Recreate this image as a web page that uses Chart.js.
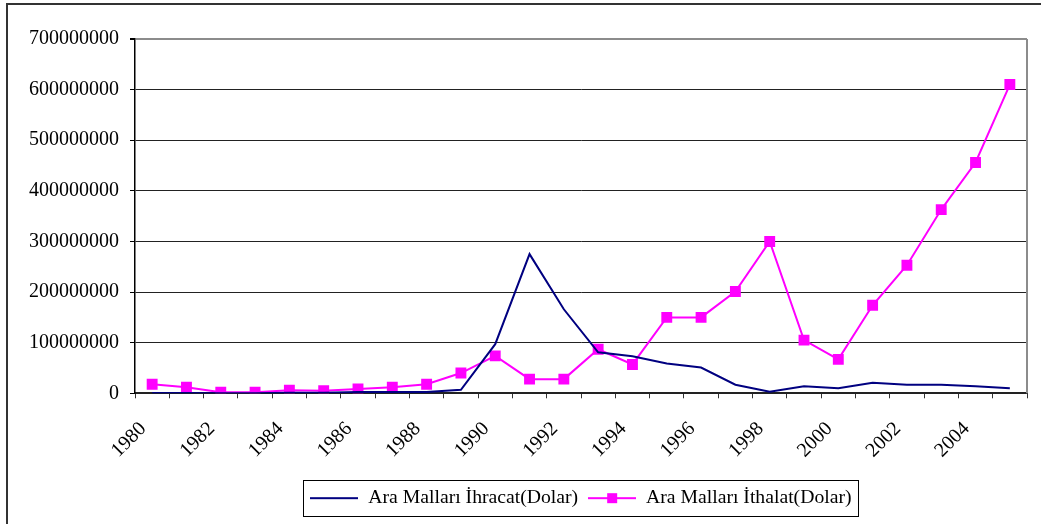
<!DOCTYPE html>
<html>
<head>
<meta charset="utf-8">
<script src="https://cdn.jsdelivr.net/npm/chart.js@4/dist/chart.umd.min.js"></script>
<style>
html, body { margin: 0; padding: 0; background: #fff; overflow: hidden; }
#wrap { position: relative; width: 1041px; height: 524px; }
#frame { position: absolute; left: 6px; top: 3px; width: 1100px; height: 600px; border-left: 2px solid #333; border-top: 2px solid #333; }
#grafica { position: absolute; left: 0; top: 0; }
</style>
</head>
<body>
<div id="wrap">
  <div id="frame"></div>
  <canvas id="grafica" width="1041" height="524"></canvas>
</div>
<script>
const years = ['1980', '1981', '1982', '1983', '1984', '1985', '1986', '1987', '1988', '1989',
    '1990', '1991', '1992', '1993', '1994', '1995', '1996', '1997', '1998', '1999',
    '2000', '2001', '2002', '2003', '2004', '2005'];

const ihracat = [500000, 500000, 0, 0, 1000000, 1000000, 2500000, 2500000, 2500000, 7000000,
    97000000, 275000000, 166000000, 81000000, 73000000, 59000000, 51000000, 17000000, 3000000, 14000000,
    10000000, 21000000, 17000000, 17000000, 14000000, 10000000];

const ithalat = [18000000, 12000000, 2000000, 2000000, 6000000, 5000000, 8500000, 12000000, 18000000, 40000000,
    74000000, 28000000, 28000000, 87000000, 57000000, 150000000, 150000000, 201000000, 300000000, 105000000,
    67000000, 174000000, 253000000, 363000000, 456000000, 610000000];

const yTicks = [0, 100000000, 200000000, 300000000, 400000000, 500000000, 600000000, 700000000];

const serif = '"Liberation Serif", "Times New Roman", serif';

// legend samples: plain line, and line with square marker
function legendSample(color, withSquare) {
    let c = document.createElement('canvas');
    c.width = 48; c.height = 14;
    let g = c.getContext('2d');
    g.strokeStyle = color;
    g.lineWidth = 2;
    g.beginPath();
    g.moveTo(0, 7);
    g.lineTo(48, 7);
    g.stroke();
    if (withSquare) {
        g.fillStyle = color;
        g.fillRect(19, 2, 10, 10);
    }
    return c;
}

const frameBorders = {
    id: 'frameBorders',
    afterDraw(chart) {
        let ctx = chart.ctx;
        let a = chart.chartArea;
        ctx.save();
        ctx.strokeStyle = '#8c8c8c';
        ctx.lineWidth = 2;
        ctx.beginPath();
        ctx.moveTo(a.right, a.top);
        ctx.lineTo(a.right, a.bottom);
        ctx.stroke();

        let boxes = chart.legend.legendHitBoxes;
        if (boxes && boxes.length) {
            let left = Math.min(...boxes.map(b => b.left)) - 7;
            let right = Math.max(...boxes.map(b => b.left + b.width)) + 7;
            let top = Math.min(...boxes.map(b => b.top)) - 8;
            let bottom = Math.max(...boxes.map(b => b.top + b.height)) + 8;
            ctx.strokeStyle = '#000';
            ctx.lineWidth = 1;
            ctx.strokeRect(Math.round(left) + 0.5, Math.round(top) + 0.5, Math.round(right - left), Math.round(bottom - top));
        }
        ctx.restore();
    }
};

let ctx = document.getElementById('grafica').getContext('2d');
new Chart(ctx, {
    type: 'line',
    data: {
        labels: years,
        datasets: [
            {
                label: 'Ara Malları İhracat(Dolar)',
                data: ihracat,
                borderColor: '#000080',
                backgroundColor: '#000080',
                borderWidth: 2,
                pointRadius: 0,
                pointHoverRadius: 0,
                tension: 0
            },
            {
                label: 'Ara Malları İthalat(Dolar)',
                data: ithalat,
                borderColor: '#ff00ff',
                backgroundColor: '#ff00ff',
                borderWidth: 2,
                pointStyle: 'rect',
                pointRadius: 7.7,
                pointBorderWidth: 0,
                tension: 0
            }
        ]
    },
    options: {
        responsive: false,
        animation: false,
        layout: { padding: { left: 10, right: 14, top: 39, bottom: 6 } },
        plugins: {
            tooltip: { enabled: false },
            legend: {
                position: 'bottom',
                fullSize: false,
                labels: {
                    usePointStyle: true,
                    pointStyleWidth: 48,
                    boxHeight: 14,
                    padding: 10,
                    color: '#000',
                    font: { family: serif, size: 19.7 },
                    generateLabels: chart => chart.data.datasets.map((ds, i) => ({
                        text: ds.label,
                        pointStyle: legendSample(ds.borderColor, i === 1),
                        fillStyle: ds.borderColor,
                        strokeStyle: ds.borderColor,
                        lineWidth: 0,
                        datasetIndex: i,
                        fontColor: '#000'
                    }))
                }
            }
        },
        scales: {
            x: {
                offset: true,
                afterFit: scale => {
                    scale.height = 85;
                    scale.paddingLeft = 0;
                    scale.paddingRight = 0;
                },
                grid: {
                    offset: true,
                    drawOnChartArea: false,
                    drawTicks: true,
                    tickLength: 5,
                    color: '#333'
                },
                border: { display: true, color: '#222', width: 2 },
                ticks: {
                    autoSkip: false,
                    maxRotation: 45,
                    minRotation: 45,
                    labelOffset: -9,
                    padding: 19,
                    color: '#000',
                    font: { family: serif, size: 20 },
                    callback: (v, i) => (i % 2 === 0 ? years[i] : '')
                }
            },
            y: {
                min: 0,
                max: 700000000,
                afterFit: scale => { scale.width = 125; },
                afterBuildTicks: scale => { scale.ticks = yTicks.map(v => ({ value: v })); },
                grid: {
                    color: c => (c.tick && c.tick.value === 700000000 ? '#8c8c8c' : '#222'),
                    lineWidth: c => (c.tick && c.tick.value === 700000000 ? 2 : 1),
                    tickLength: 5,
                    tickColor: '#000'
                },
                border: { display: true, color: '#000', width: 1.5 },
                ticks: {
                    padding: 11,
                    color: '#000',
                    font: { family: serif, size: 20 },
                    callback: v => String(v)
                }
            }
        }
    },
    plugins: [frameBorders]
});
</script>
</body>
</html>
